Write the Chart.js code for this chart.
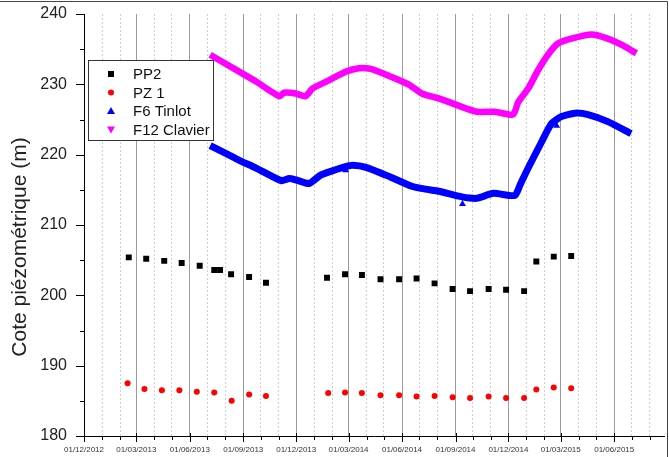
<!DOCTYPE html>
<html>
<head>
<meta charset="utf-8">
<script src="https://cdn.jsdelivr.net/npm/chart.js@4.4.0/dist/chart.umd.min.js"></script>
<style>
  html, body { margin: 0; padding: 0; background: #fff; }
  #wrap { width: 669px; height: 457px; }
</style>
</head>
<body>
<div id="wrap"><canvas id="chart" width="669" height="457"></canvas></div>
<script>
// axes
const xStart = '2012-12-01';
const xEnd = '2015-08-27';
const tickLabels = ['01/12/2012', '01/03/2013', '01/06/2013', '01/09/2013', '01/12/2013', '01/03/2014',
  '01/06/2014', '01/09/2014', '01/12/2014', '01/03/2015', '01/06/2015'];
const yMin = 180, yMax = 240;
const yTitle = 'Cote piézométrique (m)';

// PP2 (carrés noirs)
const pp2Dates = ['2013-02-16', '2013-03-18', '2013-04-18', '2013-05-18', '2013-06-18', '2013-07-13', '2013-07-23',
  '2013-08-11', '2013-09-11', '2013-10-10', '2014-01-23', '2014-02-23', '2014-03-24', '2014-04-25', '2014-05-27',
  '2014-06-26', '2014-07-27', '2014-08-27', '2014-09-26', '2014-10-28', '2014-11-27', '2014-12-28', '2015-01-18',
  '2015-02-17', '2015-03-19'];
const pp2Values = [205.4, 205.2, 204.9, 204.6, 204.2, 203.6, 203.6, 203.0, 202.6, 201.8, 202.5, 203.0, 202.9,
  202.3, 202.3, 202.4, 201.7, 200.9, 200.6, 200.9, 200.8, 200.6, 204.8, 205.5, 205.6];

// PZ 1 (ronds rouges)
const pz1Dates = ['2013-02-14', '2013-03-15', '2013-04-14', '2013-05-14', '2013-06-13', '2013-07-13', '2013-08-12',
  '2013-09-11', '2013-10-10', '2014-01-25', '2014-02-23', '2014-03-24', '2014-04-25', '2014-05-27', '2014-06-26',
  '2014-07-27', '2014-08-27', '2014-09-26', '2014-10-28', '2014-11-27', '2014-12-28', '2015-01-18', '2015-02-17',
  '2015-03-19'];
const pz1Values = [187.5, 186.7, 186.5, 186.5, 186.3, 186.2, 185.0, 185.9, 185.7, 186.1, 186.2, 186.1, 185.8,
  185.8, 185.6, 185.7, 185.5, 185.4, 185.6, 185.4, 185.4, 186.6, 186.9, 186.8];

// F6 Tinlot (enregistrement continu)
const f6Dates = ['2013-07-06', '2013-08-25', '2013-09-23', '2013-11-05', '2013-11-19', '2013-12-01', '2013-12-23',
  '2014-01-12', '2014-02-01', '2014-02-24', '2014-03-08', '2014-03-31', '2014-05-10', '2014-06-18', '2014-07-11',
  '2014-08-03', '2014-09-12', '2014-10-08', '2014-11-05', '2014-12-12', '2014-12-21', '2015-01-04', '2015-01-27',
  '2015-02-13', '2015-03-02', '2015-03-25', '2015-04-17', '2015-05-21', '2015-06-30'];
const f6Values = [221.3, 219.2, 218.1, 216.3, 216.6, 216.4, 215.9, 217.1, 217.7, 218.3, 218.5, 218.2, 216.9,
  215.5, 215.1, 214.8, 214.0, 213.8, 214.5, 214.2, 215.7, 218.1, 221.8, 224.4, 225.4, 225.9, 225.7, 224.7, 223.0];
// F6 Tinlot (mesures ponctuelles)
const f6ManualDates = ['2014-02-24', '2014-09-13', '2015-02-22'];
const f6ManualValues = [217.8, 213.0, 224.1];

// F12 Clavier
const f12Dates = ['2013-07-06', '2013-08-25', '2013-09-23', '2013-11-02', '2013-11-10', '2013-11-30', '2013-12-17',
  '2013-12-29', '2014-01-27', '2014-02-24', '2014-03-19', '2014-04-08', '2014-05-10', '2014-06-12', '2014-07-05',
  '2014-08-03', '2014-08-20', '2014-09-18', '2014-10-08', '2014-11-08', '2014-12-09', '2014-12-18', '2015-01-04',
  '2015-01-21', '2015-02-07', '2015-02-24', '2015-03-19', '2015-04-23', '2015-05-21', '2015-06-19', '2015-07-09'];
const f12Values = [234.2, 231.8, 230.4, 228.3, 228.8, 228.7, 228.3, 229.4, 230.6, 231.8, 232.3, 232.2, 231.2,
  230.0, 228.7, 228.0, 227.5, 226.6, 226.1, 226.1, 225.7, 227.5, 229.4, 232.0, 234.2, 235.8, 236.5, 237.1, 236.5,
  235.4, 234.4];

// conversion des dates en jours depuis le début de l'axe
const origin = Date.parse(xStart + 'T00:00:00Z');
function toDay(s) {
  return (Date.parse(s + 'T00:00:00Z') - origin) / 86400000;
}
function labelToDay(l) {
  const [d, m, y] = l.split('/');
  return toDay(`${y}-${m}-${d}`);
}
function pts(dates, values) {
  return dates.map((d, i) => ({ x: toDay(d), y: values[i] }));
}

const majorDays = tickLabels.map(labelToDay);
const majorSet = new Set(majorDays);
const dayLabel = {};
tickLabels.forEach((l, i) => { dayLabel[majorDays[i]] = l; });

// un repère par mois
const monthTicks = [];
{
  const d = new Date(origin);
  while (true) {
    const v = (d.getTime() - origin) / 86400000;
    if (v > toDay(xEnd)) break;
    monthTicks.push(v);
    d.setUTCMonth(d.getUTCMonth() + 1);
  }
}

// légende, repères et titre dessinés à la main
const decor = {
  id: 'decor',
  afterDraw(chart) {
    const ctx = chart.ctx;
    const xs = chart.scales.x, ys = chart.scales.y, a = chart.chartArea;
    ctx.save();

    // repères des axes
    ctx.strokeStyle = '#000';
    ctx.lineWidth = 1;
    ctx.beginPath();
    monthTicks.forEach(v => {
      const px = Math.round(xs.getPixelForValue(v)) + 0.5;
      const major = majorSet.has(v);
      ctx.moveTo(px, a.bottom - (major ? 3 : 0));
      ctx.lineTo(px, a.bottom + (major ? 6 : 4));
    });
    for (let v = yMin; v <= yMax; v += 5) {
      const py = Math.round(ys.getPixelForValue(v)) + 0.5;
      const major = v % 10 === 0;
      ctx.moveTo(a.left - (major ? 8 : 4), py);
      ctx.lineTo(a.left, py);
    }
    ctx.stroke();

    // cadre de la figure
    ctx.strokeStyle = '#444';
    ctx.beginPath();
    ctx.moveTo(0, 1.5);
    ctx.lineTo(667.5, 1.5);
    ctx.lineTo(667.5, 457);
    ctx.stroke();

    // titre de l'axe Y
    ctx.save();
    ctx.translate(20, 247);
    ctx.rotate(-Math.PI / 2);
    ctx.font = '21px "Liberation Sans", Arial, sans-serif';
    ctx.fillStyle = '#222';
    ctx.textAlign = 'center';
    ctx.textBaseline = 'middle';
    ctx.fillText(yTitle, 0, 0);
    ctx.restore();

    // légende
    const lx = 88.5, ly = 60.5, lw = 125, lh = 80;
    ctx.fillStyle = '#fff';
    ctx.fillRect(lx, ly, lw, lh);
    ctx.strokeStyle = '#333';
    ctx.strokeRect(lx, ly, lw, lh);
    ctx.font = '15px "Liberation Sans", Arial, sans-serif';
    ctx.textBaseline = 'middle';
    chart.data.datasets.filter(ds => ds.inLegend).forEach((ds, i) => {
      const y = 74 + i * 18.5, mx = 111;
      ctx.fillStyle = ds.legendColor;
      ctx.beginPath();
      if (ds.legendMarker === 'rect') {
        ctx.rect(mx - 3, y - 3, 6, 6);
      } else if (ds.legendMarker === 'circle') {
        ctx.arc(mx, y, 3, 0, Math.PI * 2);
      } else if (ds.legendMarker === 'up') {
        ctx.moveTo(mx, y - 4); ctx.lineTo(mx + 4, y + 3); ctx.lineTo(mx - 4, y + 3);
      } else {
        ctx.moveTo(mx, y + 4); ctx.lineTo(mx + 4, y - 3); ctx.lineTo(mx - 4, y - 3);
      }
      ctx.closePath();
      ctx.fill();
      ctx.fillStyle = '#111';
      ctx.fillText(ds.label, 133, y + 1);
    });
    ctx.restore();
  }
};

Chart.defaults.font.family = '"Liberation Sans", Arial, sans-serif';

const ctx = document.getElementById('chart').getContext('2d');
new Chart(ctx, {
  type: 'scatter',
  data: {
    datasets: [
      {
        label: 'PP2', inLegend: true, legendMarker: 'rect', legendColor: '#000',
        data: pts(pp2Dates, pp2Values),
        pointStyle: 'rect', pointRadius: 4.2, backgroundColor: '#000', borderWidth: 0
      },
      {
        label: 'PZ 1', inLegend: true, legendMarker: 'circle', legendColor: '#ff0000',
        data: pts(pz1Dates, pz1Values),
        pointStyle: 'circle', pointRadius: 3, backgroundColor: '#ff0000', borderWidth: 0
      },
      {
        label: 'F6 Tinlot', inLegend: true, legendMarker: 'up', legendColor: '#0000ff',
        data: pts(f6Dates, f6Values),
        showLine: true, pointRadius: 0, borderColor: '#0000ff', borderWidth: 7,
        borderJoinStyle: 'round', tension: 0.2
      },
      {
        label: 'F12 Clavier', inLegend: true, legendMarker: 'down', legendColor: '#ff00ff',
        data: pts(f12Dates, f12Values),
        showLine: true, pointRadius: 0, borderColor: '#ff00ff', borderWidth: 6.5,
        borderJoinStyle: 'round', tension: 0.2
      },
      {
        label: 'F6 Tinlot (ponctuel)', inLegend: false,
        data: pts(f6ManualDates, f6ManualValues),
        pointStyle: 'triangle', pointRadius: 4, backgroundColor: '#0000ff', borderWidth: 0
      }
    ]
  },
  options: {
    responsive: false,
    animation: false,
    layout: { padding: { top: 14, right: 2, left: 0, bottom: 0 } },
    plugins: { legend: { display: false }, tooltip: { enabled: false } },
    scales: {
      x: {
        type: 'linear',
        min: 0,
        max: toDay(xEnd),
        afterBuildTicks: s => { s.ticks = monthTicks.map(v => ({ value: v })); },
        afterFit: s => { s.height = 21; },
        ticks: {
          autoSkip: false,
          maxRotation: 0,
          padding: 0,
          color: '#333',
          font: { size: 8 },
          callback: v => dayLabel[v] || ''
        },
        grid: {
          drawTicks: true,
          tickLength: 9,
          tickColor: 'rgba(0,0,0,0)',
          color: c => (c.tick && majorSet.has(c.tick.value)) ? '#9c9c9c' : '#cfcfcf',
          lineWidth: 1
        },
        border: {
          color: '#000', width: 1,
          dash: c => (c.tick && !majorSet.has(c.tick.value)) ? [2, 2] : []
        }
      },
      y: {
        min: yMin,
        max: yMax,
        afterFit: s => { s.width = 84; },
        ticks: { stepSize: 10, padding: 0, color: '#222', font: { size: 16 } },
        grid: { drawOnChartArea: false, drawTicks: true, tickLength: 17, tickColor: 'rgba(0,0,0,0)' },
        border: { color: '#000', width: 1 }
      }
    }
  },
  plugins: [decor]
});
</script>
</body>
</html>
